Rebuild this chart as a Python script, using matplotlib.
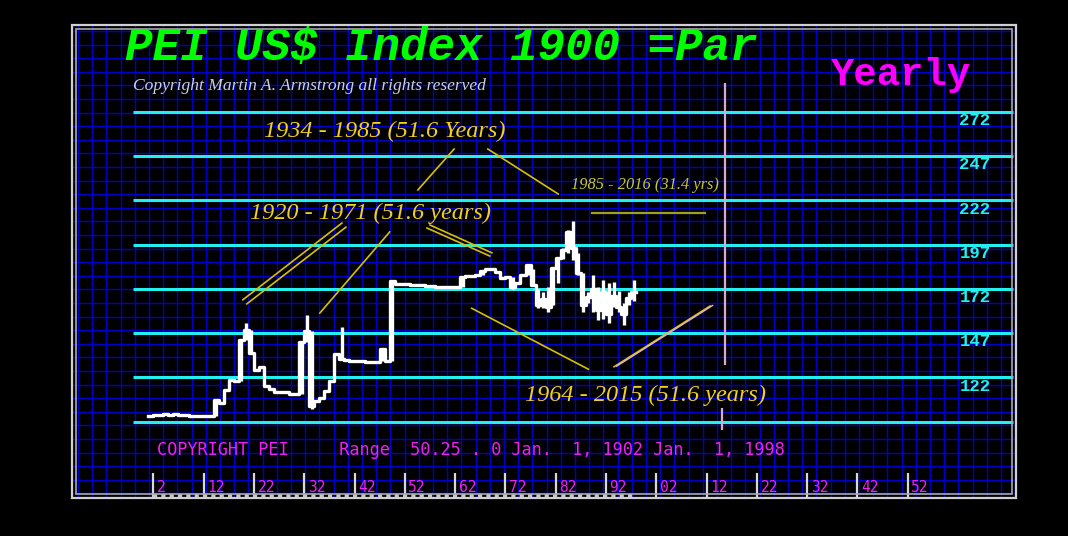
import numpy as np
import matplotlib
matplotlib.use("Agg")
import matplotlib.pyplot as plt
from matplotlib.patches import Rectangle

# ---------------- data ----------------
years = list(range(1901, 1998))
close = [100.2, 100.5, 100.8, 101.5, 100.8, 101.3, 100.8, 100.5, 100.4, 100.3,
         100.3, 100.2, 100.2, 109.0, 107.5, 114.8, 120.5, 120.0, 143.0, 148.8,
         135.6, 126.2, 128.0, 117.0, 115.6, 113.5, 113.5, 114.0, 112.6, 112.6,
         142.0, 148.4, 106.0, 108.8, 110.5, 114.5, 120.0, 135.4, 132.5, 132.0,
         131.5, 131.2, 131.0, 130.8, 130.5, 130.9, 138.0, 131.0, 176.6, 174.7,
         174.5, 174.7, 174.3, 174.2, 174.0, 173.8, 173.5, 173.0, 172.8, 172.8,
         172.8, 172.8, 178.8, 179.2, 179.2, 179.8, 182.3, 183.3, 183.3, 181.5,
         177.9, 178.5, 173.2, 175.0, 179.8, 185.4, 174.1, 163.0, 166.0, 162.0,
         183.6, 189.2, 194.0, 204.2, 195.0, 180.8, 163.0, 167.5, 172.0, 160.0,
         170.0, 158.0, 168.0, 162.0, 158.0, 167.0, 170.0]

spike_years = [1914, 1919, 1920, 1921, 1931, 1932, 1933, 1939, 1947, 1949,
               1963, 1967, 1973, 1976, 1977, 1978, 1979, 1980, 1981, 1982,
               1983, 1984, 1985, 1986, 1987, 1988, 1989, 1990, 1991, 1992,
               1993, 1994, 1995, 1996, 1997]
spike_low = [100.2, 120.0, 143.0, 135.6, 112.6, 142.0, 104.3, 132.5, 131.0, 131.0,
             172.8, 179.8, 172.0, 179.8, 174.1, 161.0, 161.0, 159.0, 163.0, 175.0,
             189.0, 192.0, 188.0, 180.0, 159.0, 164.0, 159.0, 154.4, 155.0, 152.7,
             162.0, 159.0, 151.6, 163.0, 165.0]
spike_high = [109.0, 143.0, 152.5, 149.0, 142.0, 157.4, 148.4, 150.6, 138.0, 176.6,
              178.8, 182.3, 178.5, 186.0, 183.0, 172.0, 170.0, 173.0, 184.0, 190.0,
              195.0, 205.0, 210.0, 192.0, 181.0, 170.0, 180.0, 173.0, 177.0, 175.0,
              176.0, 171.0, 164.0, 170.0, 177.0]

levels = [97, 122, 147, 172, 197, 222, 247, 272]
level_labels = ["", "122", "147", "172", "197", "222", "247", "272"]

tick_years = list(range(1902, 2053, 10))
tick_labels = ["2", "12", "22", "32", "42", "52", "62", "72", "82", "92",
               "02", "12", "22", "32", "42", "52"]

# cycle lines (year1, value1, year2, value2)
cyc_x1 = [1954.6, 1968.5, 1919.8, 1920.6, 1935.1, 1956.4, 1957.0, 1965.3, 1993.6]
cyc_y1 = [227.8, 250.9, 165.8, 163.5, 158.3, 206.3, 208.0, 161.0, 128.0]
cyc_x2 = [1961.8, 1982.5, 1939.5, 1940.3, 1949.0, 1968.9, 1969.3, 1988.5, 2012.7]
cyc_y2 = [250.9, 225.5, 209.1, 206.8, 204.1, 190.5, 192.3, 126.6, 162.3]

olive_x = [1989.2, 2011.7]
olive_y = [214.6, 214.6]

marker_year = [2015.7, 2015.1]
marker_lo = [129.0, 92.3]
marker_hi = [288.1, 104.7]

# ---------------- layout helpers (pixel -> data) ----------------
W, H = 1068, 536
X0_PX, X0_YR, PX_YR = 153.3, 1902, 5.03
Y0_PX, Y0_V, PX_V = 421.7, 97, 44.3 / 25


def xd(px):
    return X0_YR + (px - X0_PX) / PX_YR


def yd(py):
    return Y0_V + (Y0_PX - py) / PX_V


L, R, T, B = 72, 1016, 25, 498

fig = plt.figure(figsize=(W / 100, H / 100), dpi=100, facecolor="black")
ax = fig.add_axes([L / W, 1 - B / H, (R - L) / W, (B - T) / H])
ax.set_facecolor("#00000c")
ax.set_xlim(xd(L), xd(R))
ax.set_ylim(yd(B), yd(T))
ax.axis("off")

# blue grid
gx = np.arange(L + 6, R, 14.2)
gy = np.arange(T + 6, B, 13.6)
ax.vlines([xd(p) for p in gx], yd(B), yd(T), colors="#0000c8", lw=1.0, zorder=1)
ax.hlines([yd(p) for p in gy], xd(L), xd(R), colors="#0000c8", lw=1.0, zorder=1)

# cyan level lines
ax.hlines(levels, xd(133), xd(R - 3), colors="#22f0f0", lw=2.2, zorder=2)
for lv, lab in zip(levels, level_labels):
    if lab:
        ax.text(xd(975), lv - 5.0, lab, color="#22f0f0", fontsize=12.5,
                family="Liberation Mono", weight="bold", ha="center", va="center",
                zorder=3)

# ticks and bottom strip
ax.vlines(tick_years, yd(497), yd(473), colors="#d8d8d8", lw=1.6, zorder=3)
for ty, tl in zip(tick_years, tick_labels):
    ax.text(ty + 0.7, yd(487), tl, color="#ee22ee", fontsize=10.5,
            family="DejaVu Sans Mono", ha="left", va="center", zorder=3)
ax.plot([years[0] + 1, years[-1] + 1], [yd(495.5)] * 2, color="#c8c8c8",
        lw=3, ls=(0, (1, 1)), zorder=3)

# cycle lines
for x1, y1, x2, y2 in zip(cyc_x1, cyc_y1, cyc_x2, cyc_y2):
    ax.plot([x1, x2], [y1, y2], color="#d8c000", lw=1.2, zorder=4)
ax.plot([cyc_x1[-1] + 0.5, cyc_x2[-1] + 0.5], [cyc_y1[-1] + 0.3, cyc_y2[-1] + 0.3],
        color="#e0b0e0", lw=1.0, zorder=4)
ax.plot(olive_x, olive_y, color="#a0a020", lw=1.6, zorder=4)

# pink markers
ax.vlines(marker_year, marker_lo, marker_hi, colors="#d8a8d8", lw=1.6, zorder=4)

# data
ax.step(years + [years[-1] + 1], close + [close[-1]], where="post",
        color="white", lw=2.4, zorder=5)
ax.vlines([y + 0.5 for y in spike_years], spike_low, spike_high,
          colors="white", lw=2.4, zorder=5)

# annotation texts
yel = "#f0d020"
ax.text(xd(264), yd(131), "1934 - 1985 (51.6 Years)", color=yel, fontsize=17.5,
        family="Liberation Serif", style="italic", ha="left", va="center", zorder=6)
ax.text(xd(250), yd(213), "1920 - 1971 (51.6 years)", color=yel, fontsize=17.5,
        family="Liberation Serif", style="italic", ha="left", va="center", zorder=6)
ax.text(xd(571), yd(185), "1985 - 2016 (31.4 yrs)", color="#c8c832", fontsize=11.8,
        family="Liberation Serif", style="italic", ha="left", va="center", zorder=6)
ax.text(xd(525), yd(395), "1964 - 2015 (51.6 years)", color=yel, fontsize=17.5,
        family="Liberation Serif", style="italic", ha="left", va="center", zorder=6)

# titles
fig.text(125 / W, 1 - 48 / H, "PEI US$ Index 1900 =Par", color="#00ff00",
         fontsize=33, family="Liberation Mono", weight="bold", style="italic",
         ha="left", va="center")
fig.text(831 / W, 1 - 75 / H, "Yearly", color="#ff00ff", fontsize=28,
         family="Liberation Mono", weight="bold", ha="left", va="center")
fig.text(133 / W, 1 - 86 / H, "Copyright Martin A. Armstrong all rights reserved",
         color="#c8d0e0", fontsize=12.6, family="Liberation Serif", style="italic",
         ha="left", va="center")
fig.text(157 / W, 1 - 450 / H,
         "COPYRIGHT PEI     Range  50.25 . 0 Jan.  1, 1902 Jan.  1, 1998",
         color="#ee22ee", fontsize=12.2, family="DejaVu Sans Mono", ha="left",
         va="center")

# frame
fig.add_artist(Rectangle((L / W, 1 - B / H), (R - L) / W, (B - T) / H,
                         transform=fig.transFigure, fill=False,
                         edgecolor="#d0d0d0", lw=1.6))
fig.add_artist(Rectangle(((L + 4) / W, 1 - (B - 4) / H), (R - L - 8) / W,
                         (B - T - 8) / H, transform=fig.transFigure, fill=False,
                         edgecolor="#a8a8a8", lw=1.2))

fig.savefig("out.png", dpi=100, facecolor="black")
